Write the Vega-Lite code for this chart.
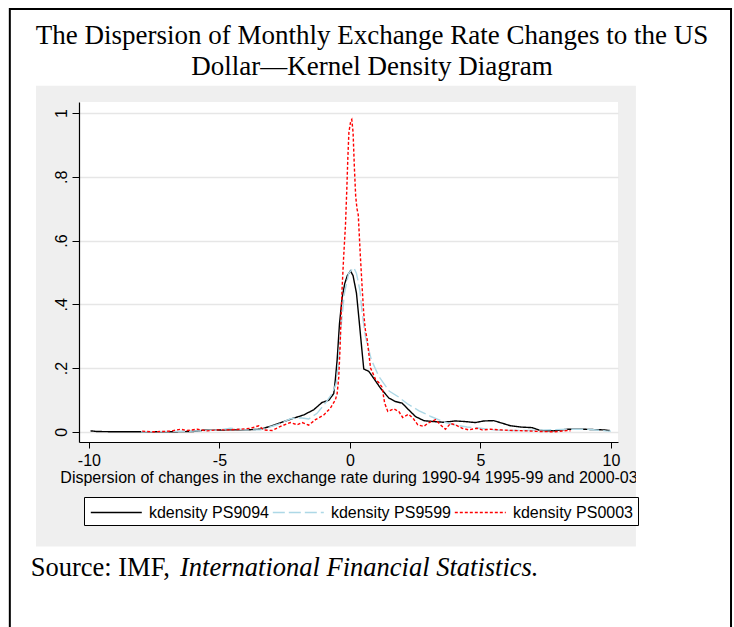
{
  "$schema": "https://vega.github.io/schema/vega-lite/v6.json",
  "width": 539,
  "height": 340,
  "autosize": {"type": "none"},
  "padding": {"left": 79, "top": 102, "right": 115, "bottom": 185},
  "background": "#efefef",
  "title": {
    "text": ["The Dispersion of Monthly Exchange Rate Changes to the US", "Dollar\u2014Kernel Density Diagram"],
    "font": "Liberation Serif",
    "fontSize": 27,
    "fontWeight": "normal",
    "color": "black",
    "lineHeight": 31,
    "anchor": "middle",
    "frame": "group",
    "dx": 23.5,
    "offset": -215,
    "zindex": 1
  },
  "resolve": {"axis": {"x": "independent", "y": "independent"}},
  "config": {
    "view": {"stroke": null, "fill": "white"},
    "legend": {
      "orient": "none",
      "legendX": 5,
      "legendY": 395,
      "direction": "horizontal",
      "columns": 3,
      "symbolType": "M-2.5,0H2.5",
      "symbolSize": 416,
      "symbolStrokeWidth": 1.4,
      "symbolOffset": 16.8,
      "labelFont": "Liberation Sans",
      "labelFontSize": 16,
      "labelColor": "black",
      "labelOffset": 21.6,
      "labelLimit": 0,
      "columnPadding": 0,
      "strokeColor": "black",
      "fillColor": "white",
      "padding": 4.5,
      "gridAlign": "none"
    }
  },
  "layer": [
    {
      "data": {"values": [
        {"series": "kdensity PS9094", "x": -9.94, "y": 0.003},
        {"series": "kdensity PS9094", "x": -9.7, "y": 0.001},
        {"series": "kdensity PS9094", "x": -9.0, "y": 0.0},
        {"series": "kdensity PS9094", "x": -8.0, "y": 0.0},
        {"series": "kdensity PS9094", "x": -7.0, "y": 0.0},
        {"series": "kdensity PS9094", "x": -6.0, "y": 0.001},
        {"series": "kdensity PS9094", "x": -5.6, "y": 0.005},
        {"series": "kdensity PS9094", "x": -4.7, "y": 0.006},
        {"series": "kdensity PS9094", "x": -4.0, "y": 0.006},
        {"series": "kdensity PS9094", "x": -3.45, "y": 0.008},
        {"series": "kdensity PS9094", "x": -3.05, "y": 0.017},
        {"series": "kdensity PS9094", "x": -2.54, "y": 0.032},
        {"series": "kdensity PS9094", "x": -2.15, "y": 0.043},
        {"series": "kdensity PS9094", "x": -1.77, "y": 0.053},
        {"series": "kdensity PS9094", "x": -1.39, "y": 0.069},
        {"series": "kdensity PS9094", "x": -1.07, "y": 0.092},
        {"series": "kdensity PS9094", "x": -0.81, "y": 0.099},
        {"series": "kdensity PS9094", "x": -0.62, "y": 0.12},
        {"series": "kdensity PS9094", "x": -0.56, "y": 0.163},
        {"series": "kdensity PS9094", "x": -0.49, "y": 0.226},
        {"series": "kdensity PS9094", "x": -0.4, "y": 0.34},
        {"series": "kdensity PS9094", "x": -0.3, "y": 0.42},
        {"series": "kdensity PS9094", "x": -0.2, "y": 0.465},
        {"series": "kdensity PS9094", "x": -0.1, "y": 0.49},
        {"series": "kdensity PS9094", "x": 0.02, "y": 0.505},
        {"series": "kdensity PS9094", "x": 0.12, "y": 0.49},
        {"series": "kdensity PS9094", "x": 0.25, "y": 0.435},
        {"series": "kdensity PS9094", "x": 0.35, "y": 0.351},
        {"series": "kdensity PS9094", "x": 0.47, "y": 0.247},
        {"series": "kdensity PS9094", "x": 0.53, "y": 0.197},
        {"series": "kdensity PS9094", "x": 0.72, "y": 0.19},
        {"series": "kdensity PS9094", "x": 0.91, "y": 0.168},
        {"series": "kdensity PS9094", "x": 1.17, "y": 0.137},
        {"series": "kdensity PS9094", "x": 1.49, "y": 0.106},
        {"series": "kdensity PS9094", "x": 1.74, "y": 0.095},
        {"series": "kdensity PS9094", "x": 2.0, "y": 0.09},
        {"series": "kdensity PS9094", "x": 2.25, "y": 0.069},
        {"series": "kdensity PS9094", "x": 2.51, "y": 0.048},
        {"series": "kdensity PS9094", "x": 2.83, "y": 0.035},
        {"series": "kdensity PS9094", "x": 3.21, "y": 0.032},
        {"series": "kdensity PS9094", "x": 3.59, "y": 0.03},
        {"series": "kdensity PS9094", "x": 4.04, "y": 0.034},
        {"series": "kdensity PS9094", "x": 4.43, "y": 0.032},
        {"series": "kdensity PS9094", "x": 4.81, "y": 0.029},
        {"series": "kdensity PS9094", "x": 5.13, "y": 0.034},
        {"series": "kdensity PS9094", "x": 5.51, "y": 0.035},
        {"series": "kdensity PS9094", "x": 5.83, "y": 0.027},
        {"series": "kdensity PS9094", "x": 6.15, "y": 0.019},
        {"series": "kdensity PS9094", "x": 6.53, "y": 0.015},
        {"series": "kdensity PS9094", "x": 6.98, "y": 0.013},
        {"series": "kdensity PS9094", "x": 7.3, "y": 0.004},
        {"series": "kdensity PS9094", "x": 7.81, "y": 0.003},
        {"series": "kdensity PS9094", "x": 8.32, "y": 0.008},
        {"series": "kdensity PS9094", "x": 8.96, "y": 0.008},
        {"series": "kdensity PS9094", "x": 9.72, "y": 0.006},
        {"series": "kdensity PS9094", "x": 9.95, "y": 0.004},

        {"series": "kdensity PS9599", "x": -8.0, "y": 0.0},
        {"series": "kdensity PS9599", "x": -7.0, "y": 0.001},
        {"series": "kdensity PS9599", "x": -6.0, "y": 0.002},
        {"series": "kdensity PS9599", "x": -5.0, "y": 0.006},
        {"series": "kdensity PS9599", "x": -4.58, "y": 0.011},
        {"series": "kdensity PS9599", "x": -4.0, "y": 0.006},
        {"series": "kdensity PS9599", "x": -3.43, "y": 0.006},
        {"series": "kdensity PS9599", "x": -2.79, "y": 0.022},
        {"series": "kdensity PS9599", "x": -2.28, "y": 0.041},
        {"series": "kdensity PS9599", "x": -1.9, "y": 0.044},
        {"series": "kdensity PS9599", "x": -1.58, "y": 0.04},
        {"series": "kdensity PS9599", "x": -1.26, "y": 0.058},
        {"series": "kdensity PS9599", "x": -0.94, "y": 0.09},
        {"series": "kdensity PS9599", "x": -0.68, "y": 0.12},
        {"series": "kdensity PS9599", "x": -0.52, "y": 0.153},
        {"series": "kdensity PS9599", "x": -0.43, "y": 0.226},
        {"series": "kdensity PS9599", "x": -0.34, "y": 0.33},
        {"series": "kdensity PS9599", "x": -0.21, "y": 0.435},
        {"series": "kdensity PS9599", "x": -0.05, "y": 0.497},
        {"series": "kdensity PS9599", "x": 0.15, "y": 0.515},
        {"series": "kdensity PS9599", "x": 0.25, "y": 0.497},
        {"series": "kdensity PS9599", "x": 0.38, "y": 0.445},
        {"series": "kdensity PS9599", "x": 0.47, "y": 0.372},
        {"series": "kdensity PS9599", "x": 0.59, "y": 0.3},
        {"series": "kdensity PS9599", "x": 0.82, "y": 0.226},
        {"series": "kdensity PS9599", "x": 1.1, "y": 0.175},
        {"series": "kdensity PS9599", "x": 1.5, "y": 0.128},
        {"series": "kdensity PS9599", "x": 1.85, "y": 0.11},
        {"series": "kdensity PS9599", "x": 2.2, "y": 0.088},
        {"series": "kdensity PS9599", "x": 2.65, "y": 0.066},
        {"series": "kdensity PS9599", "x": 3.1, "y": 0.048},
        {"series": "kdensity PS9599", "x": 3.6, "y": 0.031},
        {"series": "kdensity PS9599", "x": 3.98, "y": 0.022},
        {"series": "kdensity PS9599", "x": 4.49, "y": 0.015},
        {"series": "kdensity PS9599", "x": 5.0, "y": 0.011},
        {"series": "kdensity PS9599", "x": 5.51, "y": 0.006},
        {"series": "kdensity PS9599", "x": 6.02, "y": 0.004},
        {"series": "kdensity PS9599", "x": 6.79, "y": 0.004},
        {"series": "kdensity PS9599", "x": 7.56, "y": 0.006},
        {"series": "kdensity PS9599", "x": 8.32, "y": 0.008},
        {"series": "kdensity PS9599", "x": 9.09, "y": 0.008},
        {"series": "kdensity PS9599", "x": 9.79, "y": 0.003},
        {"series": "kdensity PS9599", "x": 10.0, "y": 0.002},

        {"series": "kdensity PS0003", "x": -7.96, "y": 0.002},
        {"series": "kdensity PS0003", "x": -7.52, "y": 0.0},
        {"series": "kdensity PS0003", "x": -6.88, "y": 0.002},
        {"series": "kdensity PS0003", "x": -6.49, "y": 0.008},
        {"series": "kdensity PS0003", "x": -6.24, "y": 0.004},
        {"series": "kdensity PS0003", "x": -5.85, "y": 0.008},
        {"series": "kdensity PS0003", "x": -5.47, "y": 0.003},
        {"series": "kdensity PS0003", "x": -5.09, "y": 0.006},
        {"series": "kdensity PS0003", "x": -4.7, "y": 0.006},
        {"series": "kdensity PS0003", "x": -4.2, "y": 0.008},
        {"series": "kdensity PS0003", "x": -3.81, "y": 0.011},
        {"series": "kdensity PS0003", "x": -3.49, "y": 0.019},
        {"series": "kdensity PS0003", "x": -3.3, "y": 0.006},
        {"series": "kdensity PS0003", "x": -2.98, "y": 0.004},
        {"series": "kdensity PS0003", "x": -2.66, "y": 0.017},
        {"series": "kdensity PS0003", "x": -2.28, "y": 0.029},
        {"series": "kdensity PS0003", "x": -2.02, "y": 0.022},
        {"series": "kdensity PS0003", "x": -1.83, "y": 0.029},
        {"series": "kdensity PS0003", "x": -1.58, "y": 0.021},
        {"series": "kdensity PS0003", "x": -1.32, "y": 0.038},
        {"series": "kdensity PS0003", "x": -1.0, "y": 0.053},
        {"series": "kdensity PS0003", "x": -0.75, "y": 0.074},
        {"series": "kdensity PS0003", "x": -0.56, "y": 0.1},
        {"series": "kdensity PS0003", "x": -0.49, "y": 0.12},
        {"series": "kdensity PS0003", "x": -0.43, "y": 0.17},
        {"series": "kdensity PS0003", "x": -0.38, "y": 0.26},
        {"series": "kdensity PS0003", "x": -0.34, "y": 0.36},
        {"series": "kdensity PS0003", "x": -0.3, "y": 0.45},
        {"series": "kdensity PS0003", "x": -0.24, "y": 0.55},
        {"series": "kdensity PS0003", "x": -0.17, "y": 0.65},
        {"series": "kdensity PS0003", "x": -0.12, "y": 0.76},
        {"series": "kdensity PS0003", "x": -0.08, "y": 0.86},
        {"series": "kdensity PS0003", "x": -0.04, "y": 0.94},
        {"series": "kdensity PS0003", "x": 0.03, "y": 0.975},
        {"series": "kdensity PS0003", "x": 0.07, "y": 0.98},
        {"series": "kdensity PS0003", "x": 0.12, "y": 0.94},
        {"series": "kdensity PS0003", "x": 0.17, "y": 0.83},
        {"series": "kdensity PS0003", "x": 0.22, "y": 0.74},
        {"series": "kdensity PS0003", "x": 0.27, "y": 0.7},
        {"series": "kdensity PS0003", "x": 0.32, "y": 0.68},
        {"series": "kdensity PS0003", "x": 0.4, "y": 0.55},
        {"series": "kdensity PS0003", "x": 0.47, "y": 0.45},
        {"series": "kdensity PS0003", "x": 0.53, "y": 0.37},
        {"series": "kdensity PS0003", "x": 0.59, "y": 0.32},
        {"series": "kdensity PS0003", "x": 0.66, "y": 0.29},
        {"series": "kdensity PS0003", "x": 0.79, "y": 0.2},
        {"series": "kdensity PS0003", "x": 0.98, "y": 0.165},
        {"series": "kdensity PS0003", "x": 1.1, "y": 0.155},
        {"series": "kdensity PS0003", "x": 1.23, "y": 0.14},
        {"series": "kdensity PS0003", "x": 1.33, "y": 0.09},
        {"series": "kdensity PS0003", "x": 1.45, "y": 0.064},
        {"series": "kdensity PS0003", "x": 1.68, "y": 0.072},
        {"series": "kdensity PS0003", "x": 1.87, "y": 0.064},
        {"series": "kdensity PS0003", "x": 2.02, "y": 0.045},
        {"series": "kdensity PS0003", "x": 2.25, "y": 0.055},
        {"series": "kdensity PS0003", "x": 2.44, "y": 0.04},
        {"series": "kdensity PS0003", "x": 2.6, "y": 0.022},
        {"series": "kdensity PS0003", "x": 2.83, "y": 0.017},
        {"series": "kdensity PS0003", "x": 2.99, "y": 0.027},
        {"series": "kdensity PS0003", "x": 3.28, "y": 0.038},
        {"series": "kdensity PS0003", "x": 3.47, "y": 0.022},
        {"series": "kdensity PS0003", "x": 3.66, "y": 0.008},
        {"series": "kdensity PS0003", "x": 3.85, "y": 0.026},
        {"series": "kdensity PS0003", "x": 4.04, "y": 0.022},
        {"series": "kdensity PS0003", "x": 4.3, "y": 0.011},
        {"series": "kdensity PS0003", "x": 4.55, "y": 0.006},
        {"series": "kdensity PS0003", "x": 4.87, "y": 0.011},
        {"series": "kdensity PS0003", "x": 5.06, "y": 0.006},
        {"series": "kdensity PS0003", "x": 5.38, "y": 0.008},
        {"series": "kdensity PS0003", "x": 5.77, "y": 0.006},
        {"series": "kdensity PS0003", "x": 6.28, "y": 0.004},
        {"series": "kdensity PS0003", "x": 6.79, "y": 0.003},
        {"series": "kdensity PS0003", "x": 7.3, "y": 0.001},
        {"series": "kdensity PS0003", "x": 7.81, "y": 0.0},
        {"series": "kdensity PS0003", "x": 8.32, "y": 0.004},
        {"series": "kdensity PS0003", "x": 8.45, "y": 0.003}
      ]},
      "mark": {"type": "line", "strokeWidth": 1.4, "interpolate": "linear"},
      "encoding": {
        "x": {
          "field": "x", "type": "quantitative",
          "scale": {"domain": [-10.38, 10.27], "nice": false, "zero": false},
          "axis": {
            "values": [-10, -5, 0, 5, 10],
            "labelExpr": "datum.value + ''",
            "grid": false,
            "domainColor": "black",
            "domainWidth": 1.2,
            "tickColor": "black",
            "tickWidth": 1,
            "tickSize": 6,
            "labelFont": "Liberation Sans",
            "labelFontSize": 16,
            "labelColor": "black",
            "labelPadding": 4,
            "labelFlush": false,
            "labelOverlap": false,
            "title": "Dispersion of changes in the exchange rate during 1990-94 1995-99 and 2000-03",
            "titleFont": "Liberation Sans",
            "titleFontSize": 16,
            "titleFontWeight": "normal",
            "titleColor": "black",
            "titlePadding": 1
          }
        },
        "y": {
          "field": "y", "type": "quantitative",
          "scale": {"domain": [-0.032, 1.035], "nice": false, "zero": false},
          "axis": {
            "values": [0, 0.2, 0.4, 0.6, 0.8, 1],
            "labelExpr": "datum.value == 0 ? '0' : datum.value == 1 ? '1' : replace(format(datum.value, '.1f'), '0.', '.')",
            "grid": true,
            "gridColor": "#e6e6e6",
            "gridWidth": 1.5,
            "domainColor": "black",
            "domainWidth": 1.2,
            "tickColor": "black",
            "tickWidth": 1,
            "tickSize": 7,
            "labelAngle": -90,
            "labelAlign": "center",
            "labelBaseline": "bottom",
            "labelFont": "Liberation Sans",
            "labelFontSize": 16,
            "labelColor": "black",
            "labelPadding": 3,
            "labelFlush": false,
            "labelOverlap": false,
            "title": null
          }
        },
        "color": {
          "field": "series", "type": "nominal", "title": null,
          "scale": {"domain": ["kdensity PS9094", "kdensity PS9599", "kdensity PS0003"], "range": ["black", "#add8e6", "#ff0000"]}
        },
        "strokeDash": {
          "field": "series", "type": "nominal", "title": null,
          "scale": {"domain": ["kdensity PS9094", "kdensity PS9599", "kdensity PS0003"], "range": [[1, 0], [12, 4], [3, 2]]}
        }
      }
    },
    {
      "data": {"values": [{}]},
      "mark": {"type": "rect", "fill": "transparent", "stroke": "white", "strokeWidth": 220},
      "encoding": {
        "x": {"datum": -16.24, "type": "quantitative", "scale": {"domain": [-10.38, 10.27], "nice": false, "zero": false}, "axis": null},
        "x2": {"datum": 15.17},
        "y": {"datum": 1.431, "type": "quantitative", "scale": {"domain": [-0.032, 1.035], "nice": false, "zero": false}, "axis": null},
        "y2": {"datum": -0.705}
      }
    },
    {
      "data": {"values": [{}]},
      "mark": {"type": "rect", "fill": "transparent", "stroke": "black", "strokeWidth": 2},
      "encoding": {
        "x": {"datum": -13.03, "type": "quantitative", "scale": {"domain": [-10.38, 10.27], "nice": false, "zero": false}, "axis": null},
        "x2": {"datum": 14.6},
        "y": {"datum": 1.327, "type": "quantitative", "scale": {"domain": [-0.032, 1.035], "nice": false, "zero": false}, "axis": null},
        "y2": {"datum": -0.75}
      }
    },
    {
      "data": {"values": [{}]},
      "mark": {"type": "text", "font": "Liberation Serif", "fontSize": 26.5, "color": "black", "align": "left", "baseline": "alphabetic", "text": "Source: IMF, "},
      "encoding": {
        "x": {"datum": -12.23, "type": "quantitative", "scale": {"domain": [-10.38, 10.27], "nice": false, "zero": false}, "axis": null},
        "y": {"datum": -0.454, "type": "quantitative", "scale": {"domain": [-0.032, 1.035], "nice": false, "zero": false}, "axis": null}
      }
    },
    {
      "data": {"values": [{}]},
      "mark": {"type": "text", "font": "Liberation Serif", "fontSize": 26.5, "fontStyle": "italic", "color": "black", "align": "left", "baseline": "alphabetic", "text": "International Financial Statistics."},
      "encoding": {
        "x": {"datum": -6.51, "type": "quantitative", "scale": {"domain": [-10.38, 10.27], "nice": false, "zero": false}, "axis": null},
        "y": {"datum": -0.454, "type": "quantitative", "scale": {"domain": [-0.032, 1.035], "nice": false, "zero": false}, "axis": null}
      }
    }
  ]
}
